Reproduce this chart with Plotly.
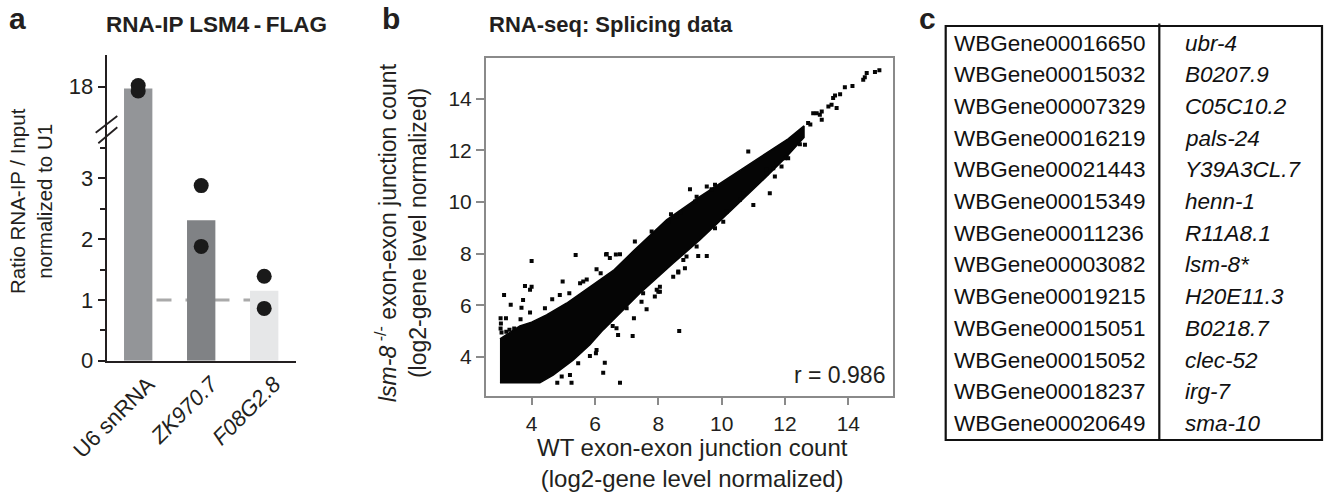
import plotly.graph_objects as go

# ---------------- data ----------------
# panel a
categories = ["U6 snRNA", "ZK970.7", "F08G2.8"]
category_labels = ["U6 snRNA", "<i>ZK970.7</i>", "<i>F08G2.8</i>"]
bar_means = [17.97, 2.31, 1.15]
replicate_1 = [18.02, 2.88, 1.39]
replicate_2 = [17.93, 1.88, 0.86]
lower_ticks = [0, 1, 2, 3]
upper_ticks = [18]

# panel b : dense point cloud outline (upper and lower edge) and single points
band_upper_x = [3.0, 3.3, 3.63, 4.0, 4.47, 5.1, 5.84, 6.58, 7.21, 8.26, 9.31, 10.37, 11.42, 12.1, 12.6]
band_upper_y = [4.7, 4.95, 5.2, 5.35, 5.63, 6.08, 6.72, 7.35, 8.1, 9.31, 10.21, 11.05, 11.9, 12.45, 12.95]
band_lower_x = [3.0, 4.26, 4.68, 5.31, 5.84, 6.26, 6.79, 7.42, 8.05, 8.47, 9.31, 10.37, 11.42, 12.05, 12.6]
band_lower_y = [3.0, 3.0, 3.3, 3.88, 4.47, 5.05, 5.69, 6.47, 7.18, 7.63, 8.53, 9.76, 10.99, 11.76, 12.5]

point_x = [4.0, 5.39, 6.35, 6.66, 6.05, 3.79, 3.95, 4.0, 3.13, 3.34, 3.73, 3.68, 3.95, 3.19, 3.65,
           4.65, 4.98, 4.89, 4.42, 5.19, 5.53, 5.63, 5.74, 6.18, 6.79, 8.66, 6.79, 6.31, 6.26, 5.26,
           4.81, 5.21, 5.47, 4.95, 5.84, 6.03, 6.73, 6.68, 6.56, 7.19, 7.23, 7.63, 7.47, 7.52, 7.95,
           8.05, 8.47, 8.63, 7.0, 6.05, 9.0, 10.84, 9.53, 9.79, 9.68, 9.21, 9.16, 8.4, 8.71, 8.58,
           8.31, 7.79, 7.26, 6.37, 6.47, 11.52, 11.0, 10.58, 10.68, 10.16, 10.05, 9.79, 9.53, 9.21, 9.26,
           8.89, 8.79, 8.84, 8.63, 8.05, 8.0, 7.89, 11.89, 11.74, 12.0, 11.63, 11.42, 11.68, 11.42, 12.05,
           12.63, 12.47, 12.1, 12.73, 12.8, 13.0, 13.1, 13.16, 12.89, 13.16, 13.37, 13.47, 13.63, 13.52, 13.58,
           13.74, 13.89, 14.13, 14.47, 14.52, 14.58, 14.84, 14.98, 3.02, 3.03, 3.02, 3.05, 3.2, 3.3, 3.45]
point_y = [7.72, 7.95, 7.97, 7.97, 7.4, 6.75, 6.6, 6.72, 6.4, 6.02, 6.21, 5.91, 5.72, 5.5, 5.46,
           6.24, 6.92, 6.4, 5.89, 6.47, 6.86, 6.92, 7.0, 7.24, 7.98, 5.01, 3.0, 3.78, 3.39, 3.0,
           3.0, 3.3, 3.76, 3.24, 4.04, 4.14, 4.85, 5.11, 5.2, 4.81, 5.5, 5.85, 6.14, 6.47, 6.6,
           6.53, 7.11, 7.31, 5.89, 4.27, 10.5, 11.96, 10.6, 10.67, 10.5, 10.21, 10.02, 9.53, 9.59, 9.44,
           9.24, 8.86, 8.47, 7.99, 7.83, 10.34, 9.89, 10.09, 10.34, 9.63, 9.24, 8.99, 7.91, 8.28, 7.91,
           7.89, 7.76, 7.44, 7.27, 6.72, 6.53, 6.34, 11.38, 11.51, 11.7, 11.31, 11.12, 10.99, 11.25, 11.74,
           12.22, 12.24, 11.7, 13.06, 13.0, 13.44, 13.38, 13.19, 13.44, 13.51, 13.7, 13.77, 13.64, 14.03, 14.13,
           14.18, 14.45, 14.5, 14.74, 14.83, 15.0, 15.04, 15.11, 5.5, 5.3, 5.1, 4.95, 4.98, 5.05, 5.1]
scatter_ticks = [4, 6, 8, 10, 12, 14]
r_value = 0.986

# panel c
gene_ids = ["WBGene00016650", "WBGene00015032", "WBGene00007329", "WBGene00016219",
            "WBGene00021443", "WBGene00015349", "WBGene00011236", "WBGene00003082",
            "WBGene00019215", "WBGene00015051", "WBGene00015052", "WBGene00018237",
            "WBGene00020649"]
gene_names = ["ubr-4", "B0207.9", "C05C10.2", "pals-24", "Y39A3CL.7", "henn-1", "R11A8.1",
              "lsm-8*", "H20E11.3", "B0218.7", "clec-52", "irg-7", "sma-10"]

# ---------------- figure ----------------
W, H = 1331, 494
FONT = "Liberation Sans, Arial, sans-serif"
INK = "#231f20"


def px(x):
    return x / W


def py(y):
    return 1 - y / H


bar_colors = ["#939598", "#808285", "#e6e7e8"]

fig = go.Figure()

# panel a: bars in lower and upper (broken) axes
for yax in ["y", "y2"]:
    fig.add_trace(go.Bar(x=categories, y=bar_means, marker=dict(color=bar_colors, line=dict(width=0)),
                         width=0.45, xaxis="x", yaxis=yax, showlegend=False))
    fig.add_trace(go.Scatter(x=categories + categories, y=replicate_1 + replicate_2, mode="markers",
                             marker=dict(size=15, color="#1a1a1a"), xaxis="x", yaxis=yax,
                             showlegend=False))

# panel b: dense cloud + individual points
poly_x = band_upper_x + band_lower_x[::-1]
poly_y = band_upper_y + band_lower_y[::-1]
fig.add_trace(go.Scatter(x=poly_x, y=poly_y, mode="lines", fill="toself", fillcolor="#050505",
                         line=dict(color="#050505", width=1.5), xaxis="x3", yaxis="y3", showlegend=False))
fig.add_trace(go.Scatter(x=point_x, y=point_y, mode="markers",
                         marker=dict(symbol="square", size=4, color="#050505", line=dict(width=0)),
                         xaxis="x3", yaxis="y3", showlegend=False))

axis_a = dict(showline=True, linecolor=INK, linewidth=2, showgrid=False, zeroline=False,
              ticks="outside", ticklen=7, tickwidth=2, tickcolor=INK, automargin=False,
              tickfont=dict(size=22, color=INK, family=FONT))

BREAK = 130.0
lower_top = (360.7 - BREAK) / 60.8
upper_bottom = 18 - (BREAK - 86.7) / 60.8
upper_top = 18 + (86.7 - 55) / 60.8

axis_b = dict(tickmode="array", tickvals=scatter_ticks, ticks="outside", ticklen=8, tickwidth=1.5,
              tickcolor="#8a8a8a", showline=True, mirror=True, linecolor="#8a8a8a", linewidth=1.5,
              showgrid=False, zeroline=False, automargin=False,
              tickfont=dict(size=21, color=INK, family=FONT))

fig.update_layout(
    width=W, height=H, margin=dict(l=0, r=0, t=0, b=0, autoexpand=False),
    paper_bgcolor="white", plot_bgcolor="white",
    font=dict(family=FONT, color=INK),
    xaxis=dict(domain=[px(106.7), px(295.7)], anchor="y", type="category", range=[-0.5, 2.5],
               showline=True, linecolor=INK, linewidth=2, ticks="", showgrid=False, automargin=False,
               tickmode="array", tickvals=categories, ticktext=category_labels, tickangle=-45,
               ticklabelshift=10,
               tickfont=dict(size=22, color=INK, family=FONT)),
    yaxis=dict(domain=[py(360.7), py(BREAK)], anchor="x", range=[0, lower_top],
               tickmode="array", tickvals=lower_ticks,
               minor=dict(tickvals=[0.5, 1.5, 2.5, 3.5], ticks="outside", ticklen=5, tickwidth=1.5,
                          tickcolor=INK, showgrid=False),
               **axis_a),
    yaxis2=dict(domain=[py(BREAK), py(55)], anchor="x", range=[upper_bottom, upper_top],
                tickmode="array", tickvals=upper_ticks, **axis_a),
    xaxis3=dict(domain=[px(485.7), px(893)], anchor="y3", range=[2.55, 15.41], **axis_b),
    yaxis3=dict(domain=[py(395.7), py(58)], anchor="x3", range=[2.5, 15.58], **axis_b),
)

shapes = []
# dashed reference line at 1 (behind bars)
shapes.append(dict(type="line", xref="x", yref="y", x0=-0.17, x1=2, y0=1, y1=1, layer="below",
                   line=dict(color="#aaaaaa", width=3, dash="15px,14px")))
# axis break marks
shapes.append(dict(type="line", xref="paper", yref="paper", x0=px(95.7), y0=py(132.7), x1=px(117.3), y1=py(116),
                   line=dict(color=INK, width=1.8)))
shapes.append(dict(type="line", xref="paper", yref="paper", x0=px(98.3), y0=py(143.3), x1=px(117.3), y1=py(127.3),
                   line=dict(color=INK, width=1.8)))
# table frame and divider
shapes.append(dict(type="rect", xref="paper", yref="paper", x0=px(945.7), x1=px(1322), y0=py(440), y1=py(26),
                   line=dict(color="#111111", width=2.2)))
shapes.append(dict(type="line", xref="paper", yref="paper", x0=px(1159.3), x1=px(1159.3), y0=py(440), y1=py(23.5),
                   line=dict(color="#111111", width=2.2)))
fig.update_layout(shapes=shapes)

ann = []
# panel letters
for letter, lx, ly in [("a", 17, 18), ("b", 391, 18), ("c", 927, 18)]:
    ann.append(dict(text=f"<b>{letter}</b>", x=px(lx), y=py(ly), xref="paper", yref="paper",
                    showarrow=False, font=dict(size=30, color=INK, family=FONT),
                    xanchor="center", yanchor="middle"))
# panel titles
ann.append(dict(text="<b>RNA-IP LSM4\u2009-\u2009FLAG</b>", x=px(216), y=py(25), xref="paper", yref="paper",
                showarrow=False, font=dict(size=22.5, color=INK, family=FONT), xanchor="center", yanchor="middle"))
ann.append(dict(text="<b>RNA-seq: Splicing data</b>", x=px(611), y=py(25), xref="paper", yref="paper",
                showarrow=False, font=dict(size=22, color=INK, family=FONT), xanchor="center", yanchor="middle"))
# axis titles
ann.append(dict(text="Ratio RNA-IP / Input<br>normalized to U1", x=px(31), y=py(201), xref="paper", yref="paper",
                textangle=-90, showarrow=False, font=dict(size=20.5, color=INK, family=FONT),
                xanchor="center", yanchor="middle"))
ann.append(dict(text="<i>lsm-8</i><sup> -/-</sup> exon-exon junction count<br>(log2-gene level normalized)",
                x=px(401), y=py(233), xref="paper", yref="paper", textangle=-90, showarrow=False,
                font=dict(size=23, color=INK, family=FONT), xanchor="center", yanchor="middle"))
ann.append(dict(text="WT exon-exon junction count<br>(log2-gene level normalized)", x=px(692), y=py(463),
                xref="paper", yref="paper", showarrow=False, font=dict(size=24, color=INK, family=FONT),
                xanchor="center", yanchor="middle"))
ann.append(dict(text=f"r = {r_value}", x=px(887), y=py(375), xref="paper", yref="paper", showarrow=False,
                font=dict(size=23, color=INK, family=FONT), xanchor="right", yanchor="middle"))
# table text
row0, row_step = 43.3, 31.67
for i, (gid, gname) in enumerate(zip(gene_ids, gene_names)):
    yy = py(row0 + i * row_step)
    ann.append(dict(text=gid, x=px(951.7), y=yy, xref="paper", yref="paper", showarrow=False,
                    font=dict(size=22.5, color="#111111", family=FONT), xanchor="left", yanchor="middle"))
    ann.append(dict(text=f"<i>{gname}</i>", x=px(1183.3), y=yy, xref="paper", yref="paper", showarrow=False,
                    font=dict(size=22.5, color="#111111", family=FONT), xanchor="left", yanchor="middle"))
fig.update_layout(annotations=ann)

fig.write_html("out.html", config={"displayModeBar": False},
               post_script="document.body.style.margin='0';")
